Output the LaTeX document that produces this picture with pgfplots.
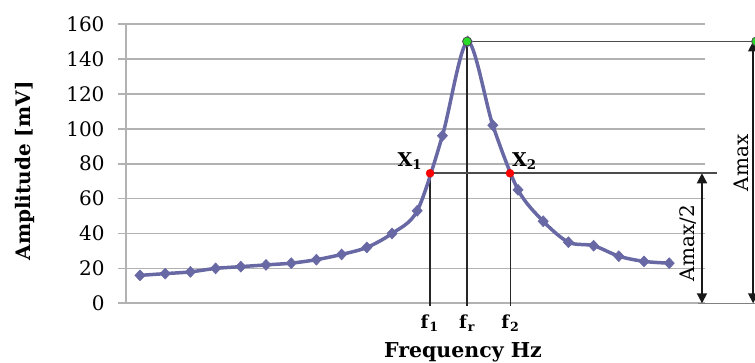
\documentclass[border=0pt]{standalone}
\usepackage{fontspec}
\setmainfont{DejaVu Serif}
\usepackage{pgfplots}
\pgfplotsset{compat=1.18}
\usetikzlibrary{arrows.meta}
\definecolor{series}{RGB}{104,104,164}
\definecolor{gridc}{RGB}{178,178,178}
\definecolor{dotgreen}{RGB}{40,220,40}
\pgfplotstableread{
x y
1 16
2 17
3 18
4 20
5 21
6 22
7 23
8 25
9 28
10 32
11 40
12 53
13 96
14 150
15 102
16 65
17 47
18 35
19 33
20 27
21 24
22 23
}\datatable
\begin{document}
\begin{tikzpicture}
\begin{axis}[
  at={(126bp,-303.3bp)}, anchor=south west,
  scale only axis, width=579bp, height=279.3bp,
  xmin=0.444, xmax=23.42, ymin=0, ymax=160,
  axis lines*=left,
  axis line style={draw=gridc, line width=1.7bp},
  ytick={0,20,...,160},
  ymajorgrids, grid style={gridc, line width=1.7bp},
  ytick style={draw=gridc, line width=1.7bp},
  tick align=outside, major tick length=8bp,
  xtick={12.49,13.98,15.70},
  xticklabels={{\textbf{f}\textsubscript{\textbf{1}}},{\textbf{f}\textsubscript{\textbf{r}}},{\textbf{f}\textsubscript{\textbf{2}}}},
  xtick style={draw=none},
  xticklabel style={font=\fontsize{18bp}{20bp}\selectfont, yshift=0bp},
  yticklabel style={font=\fontsize{20bp}{22bp}\selectfont, xshift=-10bp},
  /pgf/number format/assume math mode=true,
  xlabel={\textbf{Frequency Hz}},
  ylabel={\textbf{Amplitude [mV]}},
  xlabel style={font=\fontsize{20.5bp}{22bp}\selectfont, at={(axis description cs:0.582,-0.174)}, anchor=center},
  ylabel style={font=\fontsize{20bp}{22bp}\selectfont, at={(axis description cs:-0.175,0.474)}, anchor=center},
  clip=false,
]
% annotation lines
\draw[black!85, line width=1.4bp] (axis cs:12.51,74.5) -- (axis cs:12.51,-1.5);
\draw[black!85, line width=1.4bp] (axis cs:13.98,150) -- (axis cs:13.98,-1.5);
\draw[black!85, line width=1.4bp] (axis cs:15.70,74.5) -- (axis cs:15.70,-1.5);
\draw[black!70, line width=1.7bp] (axis cs:12.55,74.5) -- (axis cs:23.9,74.5);
\draw[black!70, line width=1.7bp] (axis cs:13.98,150) -- (axis cs:25.8,150);
\draw[black!50, line width=1.3bp] (axis cs:23.15,0) -- (axis cs:25.8,0);
\draw[{Triangle[length=10bp,width=10bp]}-{Triangle[length=10bp,width=10bp]}, line width=1.8bp, black!90]
  (axis cs:23.3,74.5) -- (axis cs:23.3,0);
\draw[{Triangle[length=10bp,width=10bp]}-{Triangle[length=10bp,width=10bp]}, line width=1.8bp, black!90]
  (axis cs:25.33,150) -- (axis cs:25.33,0);
\node[rotate=90, font=\fontsize{20bp}{22bp}\selectfont] at (axis cs:22.75,34.5) {Amax/2};
\node[rotate=90, font=\fontsize{20bp}{22bp}\selectfont] at (axis cs:24.85,80.4) {Amax};
% data
\addplot[series, line width=3.5bp, smooth, tension=0.5, mark=diamond*, mark size=5.5bp,
  mark options={fill=series, draw=series, line width=0.5bp, xscale=1.25}] table[x=x,y=y] {\datatable};
% points
\addplot[only marks, mark=*, mark size=4bp, mark options={fill=red, draw=red!90!black}] coordinates {(12.51,74.5) (15.68,74.5)};
\addplot[only marks, mark=*, mark size=4.5bp, mark options={fill=dotgreen, draw=black!70, line width=0.8bp}] coordinates {(13.98,150) (25.45,150)};
\node[anchor=south east, inner sep=0pt, font=\fontsize{19bp}{21bp}\selectfont] at (axis cs:12.2,76.5) {\textbf{X}\textsubscript{\textbf{1}}};
\node[anchor=south west, inner sep=0pt, font=\fontsize{19bp}{21bp}\selectfont] at (axis cs:15.76,76.5) {\textbf{X}\textsubscript{\textbf{2}}};
\end{axis}
\pgfresetboundingbox
\useasboundingbox (0,0) rectangle (755bp,-363bp);
\end{tikzpicture}
\end{document}
